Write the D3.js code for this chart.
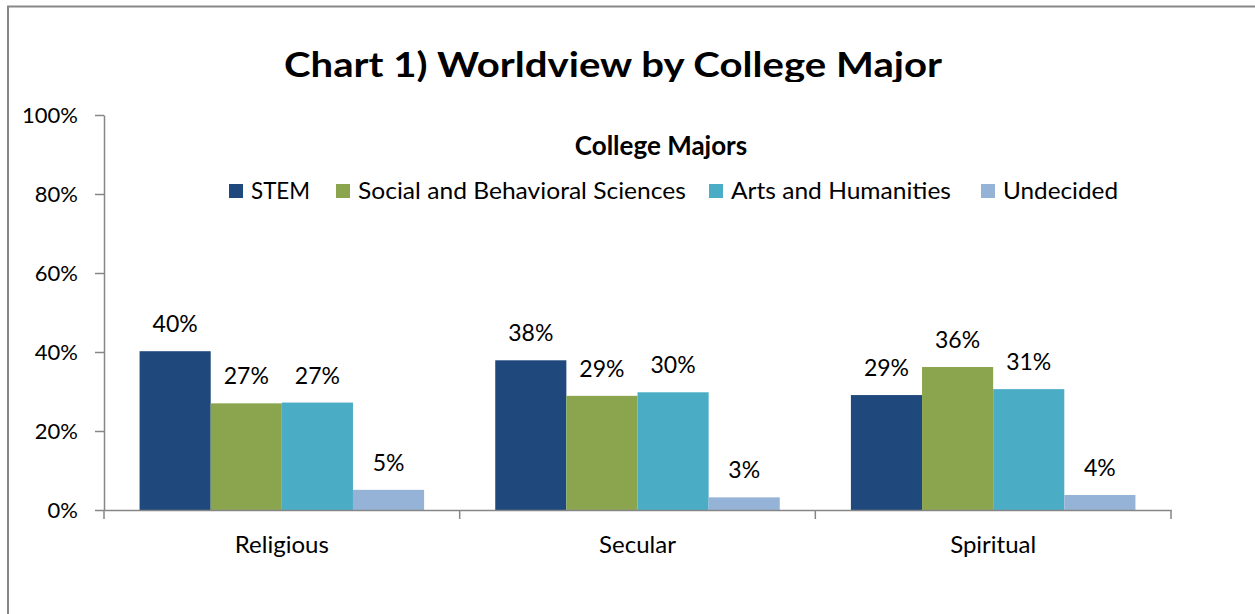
<!DOCTYPE html>
<html><head><meta charset="utf-8">
<script src="https://cdn.jsdelivr.net/npm/d3@7"></script>
<style>
html,body{margin:0;padding:0;background:#fff;}
svg{display:block;font-family:Lato,"Open Sans",sans-serif;}
</style></head>
<body>
<svg id="chart" width="1255" height="614"></svg>
<script>
const categories = ["Religious", "Secular", "Spiritual"];
const seriesNames = ["STEM", "Social and Behavioral Sciences", "Arts and Humanities", "Undecided"];
const stem = [0.402, 0.379, 0.291];
const social = [0.270, 0.289, 0.362];
const arts = [0.272, 0.298, 0.306];
const undecided = [0.051, 0.032, 0.038];
const dataLabels = [["40%","38%","29%"],["27%","29%","36%"],["27%","30%","31%"],["5%","3%","4%"]];
const yTicks = [0, 0.2, 0.4, 0.6, 0.8, 1.0];
const colors = ["#1F497D", "#8BA54E", "#4BACC6", "#95B3D7"];
const title = "Chart 1) Worldview by College Major";
const legendTitle = "College Majors";

const series = [stem, social, arts, undecided];
const svg = d3.select("#chart");

// frame
svg.append("path").attr("d","M8,614 L8,6.5 L1255,6.5").attr("fill","none").attr("stroke","#878787").attr("stroke-width",2);

// title (clipped at bottom like reference)
svg.append("clipPath").attr("id","tclip").append("rect").attr("x",0).attr("y",0).attr("width",1255).attr("height",82);
svg.append("text").attr("clip-path","url(#tclip)")
  .attr("x",613).attr("y",77).attr("text-anchor","middle")
  .attr("font-weight","bold").attr("font-size",35).attr("fill","#000")
  .attr("textLength", 658).attr("lengthAdjust","spacingAndGlyphs").text(title);

const x0 = d3.scaleBand().domain(categories).range([104, 1171]).paddingInner(0).paddingOuter(0);
const x1 = d3.scaleBand().domain(d3.range(series.length)).range([0, x0.bandwidth()]).paddingOuter(0.5).paddingInner(0);
const y = d3.scaleLinear().domain([0,1]).range([510,115]);

// y axis
const yAxis = d3.axisLeft(y).tickValues(yTicks).tickFormat(d3.format(".0%")).tickSize(9).tickSizeOuter(0);
const gy = svg.append("g").attr("transform","translate(104,0)").call(yAxis);
gy.select(".domain").attr("stroke","#868686").attr("stroke-width",1.5);
gy.selectAll(".tick line").attr("stroke","#868686").attr("stroke-width",1.5);
gy.selectAll(".tick text").attr("font-size",22).attr("font-family","Lato, sans-serif").attr("fill","#000").attr("x",-26).attr("dy","0.35em");

// bars
categories.forEach((c, ci) => {
  series.forEach((s, si) => {
    svg.append("rect")
      .attr("x", x0(c) + x1(si)).attr("y", y(s[ci]))
      .attr("width", x1.bandwidth()).attr("height", y(0) - y(s[ci]))
      .attr("fill", colors[si]);
    svg.append("text")
      .attr("x", x0(c) + x1(si) + x1.bandwidth()/2).attr("y", y(s[ci]) - 19)
      .attr("text-anchor","middle").attr("font-size",23).attr("fill","#000")
      .text(dataLabels[si][ci]);
  });
});

// x axis
const xAxis = d3.axisBottom(x0).tickSize(0).tickSizeOuter(0);
const gx = svg.append("g").attr("transform","translate(0,510)").call(xAxis);
gx.select(".domain").attr("stroke","#868686").attr("stroke-width",1.5);
gx.selectAll(".tick text").attr("font-size",24).attr("font-family","Lato, sans-serif").attr("fill","#000").attr("y",43).attr("dy",0);
// category boundary ticks
const bounds = [x0.range()[0], ...categories.map(c => x0(c) + x0.bandwidth())];
svg.append("g").selectAll("line").data(bounds).join("line")
  .attr("x1", d => d).attr("x2", d => d).attr("y1", 510).attr("y2", 519)
  .attr("stroke","#868686").attr("stroke-width",1.5);

// legend
svg.append("text").attr("x",661).attr("y",155).attr("text-anchor","middle")
  .attr("font-weight","bold").attr("font-size",26).attr("fill","#000").text(legendTitle);
const legendX = [229, 336, 709, 981];
const legendW = [59, 328, 220, 115];
const lg = svg.append("g");
seriesNames.forEach((n, i) => {
  lg.append("rect").attr("x", legendX[i]).attr("y", 184).attr("width", 14).attr("height", 14).attr("fill", colors[i]);
  lg.append("text").attr("x", legendX[i] + 22).attr("y", 199).attr("font-size", 24).attr("fill","#000")
    .attr("textLength", legendW[i]).attr("lengthAdjust","spacingAndGlyphs").text(n);
});
</script>
</body></html>
